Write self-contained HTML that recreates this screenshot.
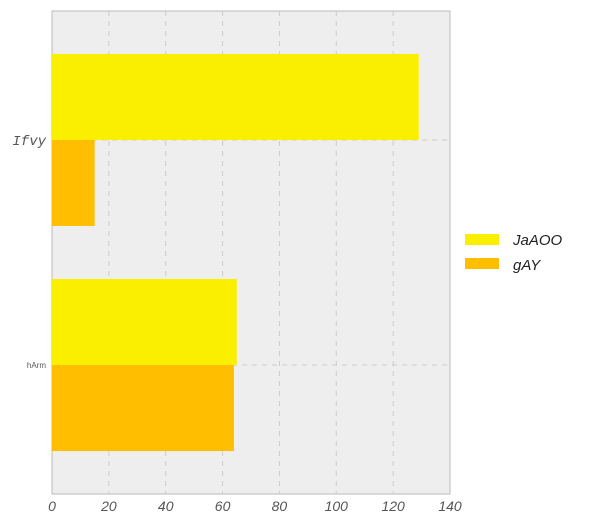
<!DOCTYPE html>
<html><head><meta charset="utf-8"><style>
html,body{margin:0;padding:0;background:#fff;}
svg text{font-family:"Liberation Sans",sans-serif;}
</style></head><body>
<svg id="chart" width="600" height="525" xmlns="http://www.w3.org/2000/svg">
<rect x="52" y="11" width="398" height="483" fill="#eeeeee" stroke="#bbbbbb"/>
<g id="grid"></g><g id="bars"></g><g id="axes"></g>
<g>
<rect x="465" y="234" width="34" height="11" fill="#fbef00"/>
<text x="513" y="245" font-size="15" font-style="italic" fill="#222">JaAOO</text>
<rect x="465" y="258" width="34" height="11" fill="#ffbf00"/>
<text x="513" y="270" font-size="15" font-style="italic" fill="#222">gAY</text>
</g>
</svg>
<script>
const categories = ["Ifvy", "hArm"];
const seriesJaAOO = [129, 65];
const seriesGAY = [15, 64];
const xTicks = [0, 20, 40, 60, 80, 100, 120, 140];
const NS = "http://www.w3.org/2000/svg";
const x0 = 52, x1 = 450, y0 = 11, y1 = 494, xMax = 140;
const xs = v => x0 + v / xMax * (x1 - x0);
const step = (y1 - y0) / (categories.length - 1 + 2 * 0.573);
const yc = i => y0 + step * 0.573 + step * i;
function mk(tag, attrs, parent) { const e = document.createElementNS(NS, tag); for (const k in attrs) e.setAttribute(k, attrs[k]); document.getElementById(parent).appendChild(e); return e; }
xTicks.forEach((t, i) => {
  if (t > 0 && t < xMax) {
    const l = mk("line", {x1: xs(t), x2: xs(t), y1: y0, y2: y1, stroke: "#cccccc", "stroke-dasharray": "5,5"}, "grid");
    
    
  }
  const tx = mk("text", {x: xs(t), y: 511, "font-size": 14, "font-style": "italic", fill: "#555", "text-anchor": "middle"}, "axes");
  tx.textContent = t;
  
  
});
categories.forEach((c, i) => {
  const yc_ = yc(i);
  const g = mk("line", {x1: x0, x2: x1, y1: yc_, y2: yc_, stroke: "#cccccc", "stroke-dasharray": "5,5"}, "grid");
  
  
  const h = 86;
  const b1 = mk("rect", {x: x0, y: yc_ - h, width: xs(seriesJaAOO[i]) - x0, height: h, fill: "#fbef00"}, "bars");
  
  
  const b2 = mk("rect", {x: x0, y: yc_, width: xs(seriesGAY[i]) - x0, height: h, fill: "#ffbf00"}, "bars");
  
  
  const big = i === 0;
  const t = mk("text", {x: 46, y: yc_ + (big ? 5 : 3), "font-size": big ? 14 : 8, "text-anchor": "end", fill: "#555", "font-style": big ? "italic" : "normal"}, "axes");
  if (big) t.style.fontFamily = '"Liberation Mono", monospace';
  t.textContent = c;
  
  
});
</script>
</body></html>
